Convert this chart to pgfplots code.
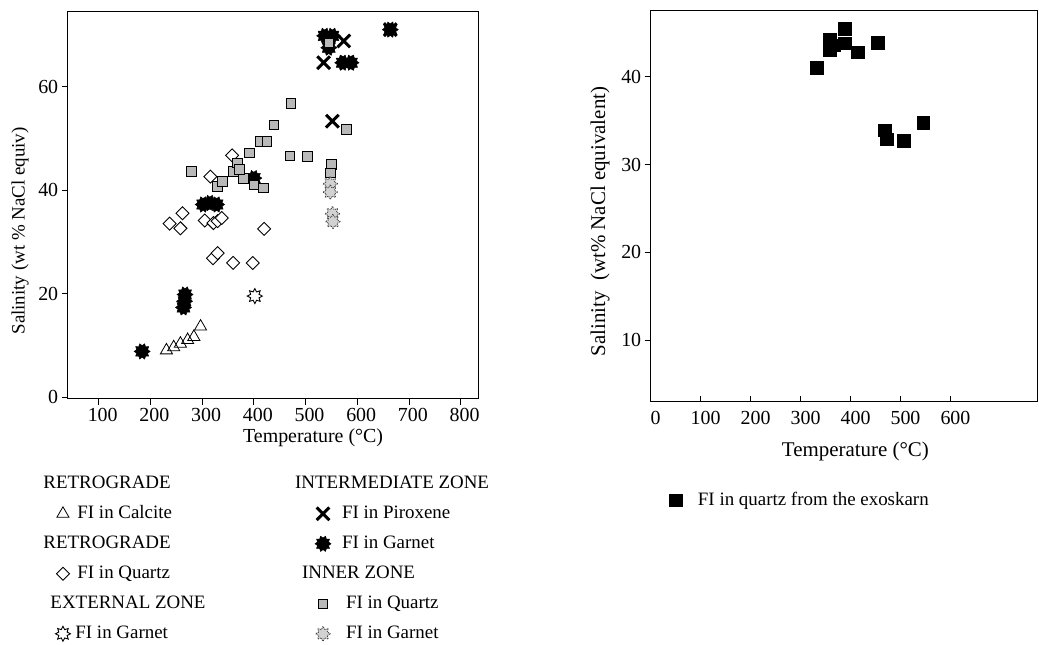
\documentclass[border=0pt]{standalone}
\usepackage{fontspec}
\setmainfont{Liberation Serif}
\usepackage{pgfplots}
\pgfplotsset{compat=1.18}

% filled rosette (garnet, intermediate zone)
\pgfdeclareplotmark{rosette}{%
  \pgfpathmoveto{\pgfpointpolar{0}{\pgfplotmarksize}}%
  \pgfpathlineto{\pgfpointpolar{18}{0.72\pgfplotmarksize}}%
  \pgfpathlineto{\pgfpointpolar{36}{\pgfplotmarksize}}%
  \pgfpathlineto{\pgfpointpolar{54}{0.72\pgfplotmarksize}}%
  \pgfpathlineto{\pgfpointpolar{72}{\pgfplotmarksize}}%
  \pgfpathlineto{\pgfpointpolar{90}{0.72\pgfplotmarksize}}%
  \pgfpathlineto{\pgfpointpolar{108}{\pgfplotmarksize}}%
  \pgfpathlineto{\pgfpointpolar{126}{0.72\pgfplotmarksize}}%
  \pgfpathlineto{\pgfpointpolar{144}{\pgfplotmarksize}}%
  \pgfpathlineto{\pgfpointpolar{162}{0.72\pgfplotmarksize}}%
  \pgfpathlineto{\pgfpointpolar{180}{\pgfplotmarksize}}%
  \pgfpathlineto{\pgfpointpolar{198}{0.72\pgfplotmarksize}}%
  \pgfpathlineto{\pgfpointpolar{216}{\pgfplotmarksize}}%
  \pgfpathlineto{\pgfpointpolar{234}{0.72\pgfplotmarksize}}%
  \pgfpathlineto{\pgfpointpolar{252}{\pgfplotmarksize}}%
  \pgfpathlineto{\pgfpointpolar{270}{0.72\pgfplotmarksize}}%
  \pgfpathlineto{\pgfpointpolar{288}{\pgfplotmarksize}}%
  \pgfpathlineto{\pgfpointpolar{306}{0.72\pgfplotmarksize}}%
  \pgfpathlineto{\pgfpointpolar{324}{\pgfplotmarksize}}%
  \pgfpathlineto{\pgfpointpolar{342}{0.72\pgfplotmarksize}}%
  \pgfpathclose
  \pgfusepathqfillstroke}

% open cog-like flower (garnet outlines)
\pgfdeclareplotmark{cog}{%
  \pgfpathmoveto{\pgfpointpolar{0}{\pgfplotmarksize}}%
  \pgfpathlineto{\pgfpointpolar{22.5}{0.6\pgfplotmarksize}}%
  \pgfpathlineto{\pgfpointpolar{45}{\pgfplotmarksize}}%
  \pgfpathlineto{\pgfpointpolar{67.5}{0.6\pgfplotmarksize}}%
  \pgfpathlineto{\pgfpointpolar{90}{\pgfplotmarksize}}%
  \pgfpathlineto{\pgfpointpolar{112.5}{0.6\pgfplotmarksize}}%
  \pgfpathlineto{\pgfpointpolar{135}{\pgfplotmarksize}}%
  \pgfpathlineto{\pgfpointpolar{157.5}{0.6\pgfplotmarksize}}%
  \pgfpathlineto{\pgfpointpolar{180}{\pgfplotmarksize}}%
  \pgfpathlineto{\pgfpointpolar{202.5}{0.6\pgfplotmarksize}}%
  \pgfpathlineto{\pgfpointpolar{225}{\pgfplotmarksize}}%
  \pgfpathlineto{\pgfpointpolar{247.5}{0.6\pgfplotmarksize}}%
  \pgfpathlineto{\pgfpointpolar{270}{\pgfplotmarksize}}%
  \pgfpathlineto{\pgfpointpolar{292.5}{0.6\pgfplotmarksize}}%
  \pgfpathlineto{\pgfpointpolar{315}{\pgfplotmarksize}}%
  \pgfpathlineto{\pgfpointpolar{337.5}{0.6\pgfplotmarksize}}%
  \pgfpathclose
  \pgfusepathqfillstroke}

\newcommand{\lbl}{\fontsize{19}{22}\selectfont}

\pgfplotsset{
  common/.style={
    scale only axis,
    axis line style={black, line width=1bp},
    tick style={black, line width=0.8bp},
    major tick length=6bp,
    tick label style={font=\fontsize{20}{24}\selectfont},
    /pgf/number format/assume math mode=true,
    label style={font=\lbl},
  },
}

\begin{document}
\begin{tikzpicture}
\path[use as bounding box] (0bp,0bp) rectangle (1039bp,-645bp);

% ---------------- panel A ----------------
\begin{axis}[common,
  width=411bp, height=387bp,
  at={(67.7bp,-398.5bp)}, anchor=south west,
  xmin=40, xmax=835, ymin=-0.3, ymax=74.5,
  xtick={100,200,...,800}, ytick={0,20,40,60},
  xtick pos=bottom, ytick pos=left, tick align=outside,
  xticklabel style={xshift=4bp},
  xlabel={Temperature (°C)},
  xlabel style={at={(axis description cs:0.597,-0.102)}, anchor=center, font=\fontsize{20}{24}\selectfont},
  ylabel={Salinity (wt \% NaCl equiv)},
  ylabel style={at={(axis description cs:-0.116,0.433)}, anchor=center},
  legend columns=6, transpose legend,
  legend style={at={(axis description cs:-0.04,-0.185)}, anchor=north west,
    draw=none, fill=none, font=\lbl,
    nodes={inner sep=2bp, text height=14bp, text depth=5bp},
    row sep=7bp,
    /tikz/every even column/.append style={column sep=107bp}},
  legend cell align=left,
]
\addlegendimage{empty legend}\addlegendentry{\hspace*{-29bp}RETROGRADE}
\addplot[only marks, mark=triangle, mark size=7bp, mark options={black, line width=0.8bp, fill=white}]
  coordinates {(231,9.0) (245,9.6) (258,10.3) (272,11.0) (284,11.6) (297,13.6)};
\addlegendentry{\hspace*{5bp}FI in Calcite}
\addlegendimage{empty legend}\addlegendentry{\hspace*{-29bp}RETROGRADE}
\addplot[only marks, mark=square*, mark size=4.6bp, mark options={rotate=45, black, fill=white, line width=0.9bp}]
  coordinates {(358,46.7) (316,42.6) (237,33.5) (262,35.5) (258,32.6) (305,34.1)
    (322,33.6) (330,34.0) (338,34.6) (420,32.5) (321,26.8) (330,27.8) (360,25.9) (398,25.9)};
\addlegendentry{\hspace*{5bp}FI in Quartz}
\addlegendimage{empty legend}\addlegendentry{\hspace*{-22bp}EXTERNAL ZONE}
\addplot[only marks, mark=cog, mark size=7.5bp, mark options={black, fill=white, line width=0.9bp}]
  coordinates {(402,19.5)};
\addlegendentry{\hspace*{3bp}FI in Garnet}
\addlegendimage{empty legend}\addlegendentry{\hspace*{-38bp}INTERMEDIATE ZONE}
\addplot[only marks, mark=x, mark size=9bp, mark options={black, line width=3bp}]
  coordinates {(535,64.6) (552,53.3) (574,68.8) (580,64.6) (664,71)};
\addlegendentry{\hspace*{9bp}FI in Piroxene}
\addplot[only marks, mark=rosette, mark size=8bp, mark options={black, fill=black, line width=0.5bp}]
  coordinates {(184,8.8) (264,17.3) (266,18.5) (267,19.8) (302,37.2) (315,37.5) (328,37.2)
    (400,42.3) (537,69.8) (552,69.8) (545,67.5) (572,64.6) (588,64.6) (664,71)};
\addlegendentry{\hspace*{9bp}FI in Garnet}
\addlegendimage{empty legend}\addlegendentry{\hspace*{-31bp}INNER ZONE}
\addplot[only marks, mark=square*, mark size=4.8bp, mark options={black, fill=gray!55, line width=0.8bp}]
  coordinates {(279,43.6) (329,40.7) (339,41.7) (361,43.6) (368,45.2) (380,42.3) (372,44.0)
    (392,47.2) (400,41.0) (419,40.4) (413,49.4) (425,49.4) (438.6,52.6) (472,56.7)
    (469.5,46.6) (504,46.5) (579,51.7) (550,44.9) (548,43.3) (545,68.4)};
\addlegendentry{\hspace*{13bp}FI in Quartz}
\addplot[only marks, mark=cog, mark size=7.5bp, mark options={draw=black!75, fill=gray!35, line width=0.9bp, densely dotted}]
  coordinates {(548,41.2) (548,39.6) (552,35.4) (553,33.9)};
\addlegendentry{\hspace*{13bp}FI in Garnet}
\node[font=\fontsize{21}{24}\selectfont] at (axis description cs:-0.048,0.965) {A)};
\end{axis}

% ---------------- panel B ----------------
\begin{axis}[common,
  width=387bp, height=391.7bp,
  at={(650.7bp,-401.7bp)}, anchor=south west,
  xmin=0, xmax=774.6, ymin=2.97, ymax=47.6,
  xtick={0,100,...,600}, ytick={10,20,30,40},
  xtick pos=bottom, ytick pos=left, tick align=outside,
  xtick style={yshift=6bp},
  xticklabel style={xshift=5bp},
  label style={font=\fontsize{21}{24}\selectfont},
  xlabel={Temperature (°C)},
  xlabel style={at={(axis description cs:0.529,-0.128)}, anchor=center},
  ylabel={Salinity\ \ (wt\% NaCl equivalent)},
  ylabel style={at={(axis description cs:-0.131,0.46)}, anchor=center},
  legend style={at={(axis description cs:0.04,-0.251)}, anchor=west,
    draw=none, fill=none, font=\lbl},
]
\addplot[only marks, mark=square*, mark size=6.3bp, mark options={black, fill=black}]
  coordinates {(332,41.0) (358.7,44.2) (358.7,43.0) (366.7,43.6) (388,45.5) (388,43.8)
    (414.7,42.8) (454.7,43.9) (468,33.9) (472,32.9) (506.7,32.7) (545.3,34.75)};
\addlegendentry{\hspace*{14bp}FI in quartz from the exoskarn}
\node[font=\fontsize{22}{24}\selectfont] at (axis description cs:-0.06,0.957) {B)};
\end{axis}
\end{tikzpicture}
\end{document}
